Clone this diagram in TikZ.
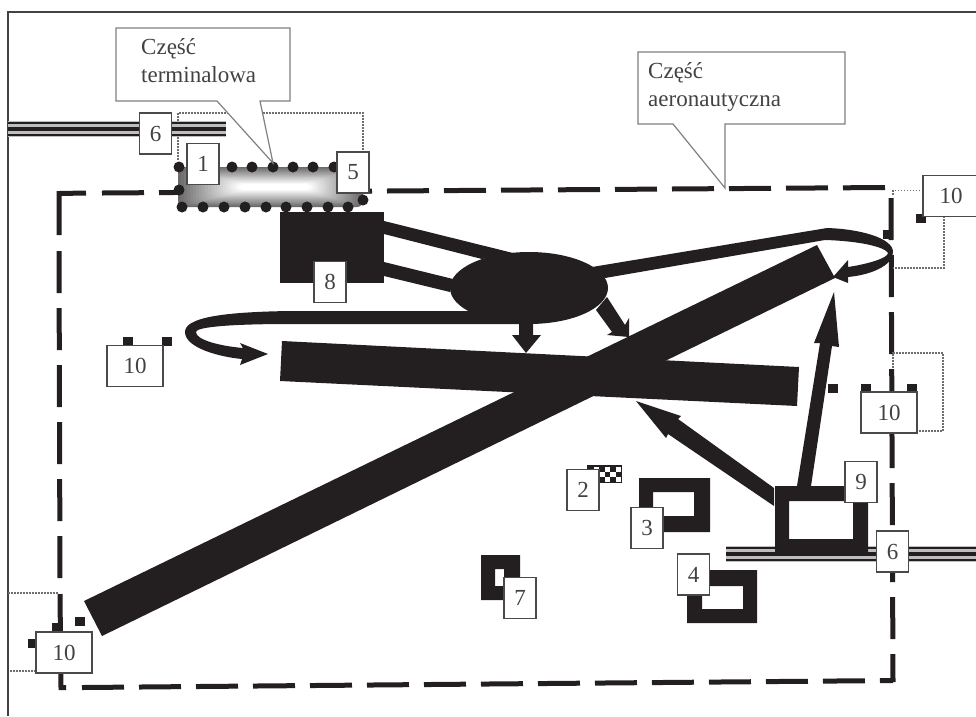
\documentclass[tikz,border=0pt]{standalone}
\usepackage{fontspec}
\setmainfont{Liberation Serif}
\usetikzlibrary{positioning}
\definecolor{ink}{HTML}{231F20}
\definecolor{boxline}{HTML}{4A4A4A}
\definecolor{railgray}{HTML}{BEBEBE}
\definecolor{dotline}{HTML}{6E6E6E}
\tikzset{
  numbox/.style={draw=boxline,line width=1.2pt,fill=white,text=ink!85,inner sep=0pt,minimum width=32pt,minimum height=41pt,font=\fontsize{23}{23}\selectfont},
  widebox/.style={numbox,minimum width=56pt},
  perim/.style={ink,line width=5pt},
  callbox/.style={draw=boxline!70,line width=1.2pt,fill=white},
  calltext/.style={anchor=north west,align=left,inner sep=0pt,text=ink!85,font=\fontsize{23}{28}\selectfont},
  thindot/.style={dotline,line width=1.1pt,dash pattern=on 1.6pt off 1.4pt},
  block/.style={fill=ink,even odd rule}
}
\begin{document}
\begin{tikzpicture}[x=1pt,y=-1pt]
\useasboundingbox (0,0) rectangle (976,716);
\draw[ink!85,line width=1.2pt] (8,716)--(8,12)--(976,12);
\draw[perim,dash pattern=on 42pt off 15pt] (102,193)--(885,187.5);
\draw[perim,dash pattern=on 42pt off 15pt] (59,251)--(60,580);
\draw[perim,dash pattern=on 42pt off 15pt] (82,687.5)--(893,680.5);
\draw[perim,dash pattern=on 42pt off 15pt] (891,198)--(893,682);
\draw[perim] (59,235)--(59,193.5)--(86,193);
\draw[perim] (60,594)--(61,687.5)--(66,687.5);
\draw[thindot] (178,160)--(178,113)--(363,113)--(363,155);
\draw[thindot] (893,195)--(893,190.5)--(923,190.5);
\draw[thindot] (944,216)--(944,268)--(893,268);
\draw[thindot] (893,368)--(893,353)--(943,353)--(943,431)--(917,431);
\draw[thindot] (8,593)--(58,593);
\draw[thindot] (10,671)--(36,671);
\fill[railgray] (8,121) rectangle (226,137);
\fill[railgray] (726,546) rectangle (976,562);
\foreach \y/\w in {123/1.6,129/4.2,135/1.6}\draw[ink,line width=\w pt] (8,\y)--(226,\y);
\foreach \y/\w in {548/1.6,554/4.2,560/1.6}\draw[ink,line width=\w pt] (726,\y)--(976,\y);
\foreach \i in {0,...,20}{
  \pgfmathsetmacro{\shade}{min(100,42+\i*2.9)}
  \fill[white!\shade!black,rounded corners=6pt] (178+\i*3,167+\i*0.85) rectangle (363-\i*2.6,207-\i*0.85);
}
\foreach \x in {179,232,252,273,293,313,334}\fill[ink] (\x,167) circle (5.5);
\foreach \x in {182,203,224,245,266,286,307,328,348}\fill[ink] (\x,207) circle (5.5);
\fill[ink] (179,190) circle (5.5);
\fill[ink] (363,200) circle (5.5);
\fill[ink] (280,212) rectangle (384,283);
\fill[ink] (384,221)--(513,253)--(482,259)--(384,234)--cycle;
\fill[ink] (384,262)--(453,279)--(450,292)--(384,276)--cycle;
\fill[ink] (529,288) ellipse [x radius=79,y radius=36];
\fill[ink] (282,341)--(799,367)--(797,406)--(280,381)--cycle;
\fill[ink] (84,601)--(817,245)--(835,278)--(102,636)--cycle;
\fill[ink] (530,311)--(290,311) .. controls (220,312) and (185,318) .. (185,332) .. controls (185,348) and (220,357) .. (242,359)--(240,365)--(268,354)--(240,343)--(243,348) .. controls (220,346) and (196,340) .. (196,332) .. controls (196,327) and (230,324) .. (290,324)--(530,324)--cycle;
\fill[ink] (519,320)--(519,335)--(512,335)--(526,353)--(541,335)--(533,335)--(533,320)--cycle;
\fill[ink] (607,297)--(625,325)--(629,318)--(629,337)--(607,335)--(612,332)--(596,310)--cycle;
\fill[ink] (592,267)--(827,228) .. controls (860,229) and (893,238) .. (893,252) .. controls (893,266) and (870,275) .. (848,277)--(848,283)--(833,277)--(848,260)--(848,267) .. controls (868,264) and (888,258) .. (888,253) .. controls (885,247) and (860,241) .. (825,240)--(605,278)--cycle;
\fill[block] (775,486) rectangle (868,553) (789,501) rectangle (853,539);
\fill[ink] (797,486)--(820,343)--(814,343)--(834,292)--(839,347)--(832,346)--(811,486)--cycle;
\fill[ink] (774,488)--(678,419)--(681,416)--(636,401)--(666,438)--(668,434)--(774,506)--cycle;
\fill[block] (639,478) rectangle (710,532) (653,492) rectangle (694,516);
\fill[block] (687,570) rectangle (757,623) (702,586) rectangle (743,609);
\fill[block] (481,555) rectangle (520,600) (495,569) rectangle (504,586);
\fill[ink] (587,465) rectangle (622,483);
\fill[white] (588.5,466.5) rectangle (620.5,481.5);
\foreach \c in {0,...,5}\foreach \r in {0,1,2}{
  \pgfmathparse{int(mod(\c+\r,2))}
  \ifnum\pgfmathresult=0 \fill[ink] (588.5+\c*5.4,466.5+\r*5) rectangle ++(5.4,5);\fi
}
\foreach \x/\y in {123/337,162/337,52/623,28/639,75/617,861/384,907/384,828/384,916/214,883/230}\fill[ink] (\x,\y) rectangle ++(9.5,9);
\draw[callbox] (116,28)--(290,28)--(290,101)--(260,101)--(273,163)--(217,101)--(116,101)--cycle;
\node[calltext] (terminal) at (141,38.5) {Część\\terminalowa};
\draw[callbox] (638,52)--(845,52)--(845,124)--(725,124)--(725,188)--(673,124)--(638,124)--cycle;
\node[calltext] (aero) at (648,62) {Część\\aeronautyczna};
\node[numbox] (rail) at (155.5,133.5) {6};
\node[numbox] (one) at (203,164) {1};
\node[numbox] (five) at (353,172.5) {5};
\node[numbox] (eight) at (330,282) {8};
\node[numbox] (two) at (583,490) {2};
\node[numbox] (three) at (647,528) {3};
\node[numbox] (four) at (693.5,574.5) {4};
\node[numbox] (nine) at (861,482) {9};
\node[numbox] (railb) at (892.5,551.5) {6};
\node[numbox] (seven) at (520,598) {7};
\node[widebox] (tena) at (889,412.5) {10};
\node[widebox] (tenb) at (951,196) {10};
\node[widebox] (tenc) at (135,366) {10};
\node[widebox] (tend) at (64,652.5) {10};
\end{tikzpicture}
\end{document}
